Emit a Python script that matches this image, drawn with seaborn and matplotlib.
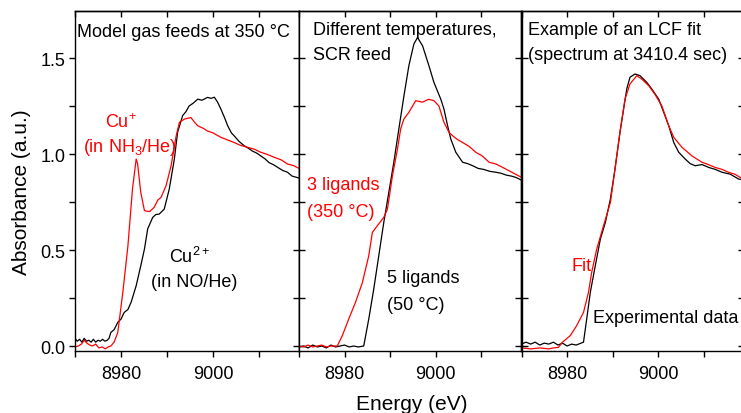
import matplotlib
matplotlib.use("Agg")
import matplotlib.pyplot as plt
from matplotlib.ticker import MultipleLocator, FormatStrFormatter
import seaborn as sns
import pandas as pd

# ================= data =================
# panel 1: model gas feeds at 350 C
p1_black_e = [8970, 8970.5, 8971, 8971.5, 8972, 8972.5, 8973, 8973.5, 8974, 8974.5,
              8975, 8975.5, 8976, 8976.5, 8977, 8977.4, 8977.8, 8978.5, 8979.3, 8980, 8980.7,
              8981.5, 8982.2, 8983.3, 8984.3, 8985.1, 8985.8, 8986.9, 8987.6, 8988.3, 8989.4,
              8990.5, 8991.6, 8992.3, 8993.4, 8994.1, 8994.8, 8995.7, 8996.7, 8997.6, 8998.8,
              8999.6, 9000.3, 9001, 9001.7, 9002.5, 9003.2, 9004, 9004.6, 9005.7, 9006.8,
              9007.7, 9008.6, 9009.5, 9010.4, 9011.3, 9012.2, 9013.1, 9014.1, 9015.1,
              9016.2, 9017.2, 9018.7]
p1_black_a = [0.04, 0.025, 0.035, 0.02, 0.04, 0.025, 0.03, 0.02, 0.035, 0.02,
              0.03, 0.025, 0.035, 0.025, 0.03, 0.04, 0.071, 0.085, 0.123, 0.14, 0.175,
              0.19, 0.228, 0.314, 0.418, 0.505, 0.61, 0.67, 0.685, 0.687, 0.713,
              0.818, 0.974, 1.113, 1.20, 1.22, 1.25, 1.265, 1.286, 1.28, 1.295,
              1.29, 1.296, 1.27, 1.235, 1.19, 1.147, 1.11, 1.095, 1.065, 1.043,
              1.03, 1.015, 1.005, 0.99, 0.975, 0.955, 0.945, 0.93, 0.915,
              0.905, 0.885, 0.875]

p1_red_e = [8970, 8970.7, 8971.4, 8972, 8972.6, 8973.2, 8973.8, 8974.5, 8975.2, 8975.9,
            8976.6, 8977.2, 8977.8, 8978.5, 8979.3, 8980.4, 8981.5, 8982.5, 8983.3, 8983.6,
            8984.3, 8985.1, 8986.2, 8987.2, 8988, 8988.7, 8989.8, 8990.9, 8992, 8992.7,
            8993.8, 8995.2, 8996, 8996.7, 8997.8, 8998.8, 9000, 9001.7, 9003, 9004.6,
            9006, 9007.5, 9009, 9010.4, 9011.8, 9013.3, 9014.8, 9016.2, 9017.5, 9018.7]
p1_red_a = [-0.005, 0.0, 0.01, 0.03, 0.015, 0.005, 0.0, 0.01, -0.01, -0.005,
            -0.015, -0.005, 0.0, 0.02, 0.07, 0.28, 0.52, 0.818, 0.974, 0.95,
            0.80, 0.705, 0.70, 0.722, 0.76, 0.774, 0.835, 0.94, 1.095, 1.165,
            1.182, 1.19, 1.165, 1.147, 1.135, 1.12, 1.11, 1.087, 1.075, 1.06,
            1.045, 1.035, 1.025, 1.009, 0.998, 0.983, 0.97, 0.948, 0.94, 0.925]

# panel 2: different temperatures, SCR feed
p2_black_e = [8970, 8971, 8972, 8973, 8974, 8975, 8976, 8977, 8978, 8979,
              8980, 8981, 8982, 8983, 8984.2, 8985.3, 8986.4, 8987.5, 8988.6, 8989.7,
              8990.8, 8991.9, 8993, 8994.1, 8995.2, 8996, 8997.1, 8998.5, 8999.6,
              9001.1, 9001.8, 9002.6, 9003.3, 9004.4, 9005.9, 9007, 9008.1, 9009.3,
              9010.5, 9011.8, 9013.2, 9014.3, 9015.5, 9016.6, 9017.6, 9018.7]
p2_black_a = [-0.005, 0.0, -0.01, 0.005, -0.005, 0.0, -0.01, 0.005, -0.005, 0.0,
              0.005, -0.005, 0.0, -0.005, 0.0, 0.14, 0.297, 0.47, 0.644, 0.80,
              0.957, 1.13, 1.30, 1.46, 1.573, 1.607, 1.564, 1.46, 1.373,
              1.286, 1.234, 1.147, 1.078, 1.009, 0.957, 0.95, 0.939, 0.925,
              0.92, 0.91, 0.905, 0.9, 0.89, 0.885, 0.878, 0.865]

p2_red_e = [8970, 8971, 8972, 8973, 8974, 8975, 8976, 8977, 8978.4, 8979.5,
            8980.9, 8982.4, 8983.9, 8985.3, 8986.1, 8987.2, 8988.6, 8989.4, 8990.5,
            8991.6, 8992.3, 8993, 8994.1, 8995.6, 8997.1, 8998.4, 8999.6, 9000.7, 9001.8,
            9002.9, 9003.7, 9004.8, 9005.9, 9007.3, 9008.8, 9010.2, 9011.7, 9013.2,
            9014.7, 9016.7, 9018.7]
p2_red_a = [0.0, -0.005, 0.005, -0.005, 0.0, 0.005, -0.005, 0.0, 0.0, 0.054,
            0.14, 0.228, 0.33, 0.47, 0.592, 0.627, 0.67, 0.713, 0.887,
            1.026, 1.13, 1.182, 1.217, 1.278, 1.27, 1.285, 1.278, 1.25, 1.165,
            1.113, 1.095, 1.075, 1.06, 1.04, 1.009, 0.99, 0.957, 0.948,
            0.93, 0.905, 0.88]

# panel 3: LCF fit example
p3_black_e = [8970, 8971, 8972, 8973, 8974, 8975, 8976, 8977, 8978, 8979,
              8980, 8981, 8982, 8983.6, 8984.3, 8985.1, 8986.2, 8987.3, 8988.4,
              8989.5, 8990.5, 8991.6, 8992.4, 8993.1, 8993.8, 8994.9, 8996,
              8997.5, 8998.6, 9000.1, 9001.2, 9002.3, 9003.4, 9004.5, 9005.9,
              9007, 9008.1, 9009.6, 9011.1, 9012.5, 9014, 9015.8, 9017.6, 9018.7]
p3_black_a = [0.01, 0.02, 0.01, 0.02, 0.005, 0.015, 0.01, 0.02, 0.005, 0.015,
              0.0, 0.01, 0.005, 0.02, 0.14, 0.28, 0.42, 0.557, 0.644,
              0.766, 0.92, 1.113, 1.234, 1.34, 1.40, 1.417, 1.408,
              1.373, 1.338, 1.286, 1.217, 1.147, 1.06, 1.009, 0.974,
              0.95, 0.939, 0.945, 0.93, 0.92, 0.905, 0.895, 0.87, 0.865]

p3_red_e = [8970, 8972, 8974, 8976, 8977, 8978.1, 8979, 8980.7, 8982.1, 8983.6,
            8984.7, 8985.4, 8986.5, 8988, 8989.5, 8990.5, 8991.6, 8992.7, 8993.8,
            8995.3, 8996.4, 8997.9, 8999.3, 9000.8, 9002.3, 9003.4, 9005.2,
            9007.4, 9009.6, 9011, 9012.5, 9014, 9015.4, 9016.8, 9018, 9018.7]
p3_red_a = [-0.01, -0.015, -0.01, -0.015, -0.01, -0.007, 0.02, 0.054, 0.106, 0.175,
            0.28, 0.384, 0.505, 0.627, 0.748, 0.92, 1.113, 1.286, 1.365,
            1.408, 1.39, 1.356, 1.31, 1.25, 1.147, 1.087, 1.035,
            0.99, 0.957, 0.945, 0.93, 0.92, 0.905, 0.895, 0.878, 0.875]

RED = "#ff0000"
BLACK = "#000000"
# ================================================================

sns.set_theme(style="ticks")
plt.rcParams["font.family"] = ["Liberation Sans", "DejaVu Sans"]
plt.rcParams["mathtext.fontset"] = "custom"
plt.rcParams["mathtext.rm"] = "Liberation Sans"
plt.rcParams["mathtext.it"] = "Liberation Sans:italic"
plt.rcParams["mathtext.bf"] = "Liberation Sans:bold"
plt.rcParams["axes.linewidth"] = 1.0
for key in ["text.color", "axes.labelcolor", "xtick.color", "ytick.color", "axes.edgecolor"]:
    plt.rcParams[key] = "#000000"

fig = plt.figure(figsize=(7.41, 4.14), dpi=100)
W, H = 741.0, 414.0
top_px, bot_px = 12, 352
panel_px = [(75, 224), (299, 222), (521.5, 222)]
axes = [fig.add_axes([l / W, 1 - bot_px / H, w / W, (bot_px - top_px) / H]) for l, w in panel_px]

curves = [
    [(p1_black_e, p1_black_a, BLACK), (p1_red_e, p1_red_a, RED)],
    [(p2_black_e, p2_black_a, BLACK), (p2_red_e, p2_red_a, RED)],
    [(p3_black_e, p3_black_a, BLACK), (p3_red_e, p3_red_a, RED)],
]

for i, ax in enumerate(axes):
    for e, a, c in curves[i]:
        df = pd.DataFrame({"Energy": e, "Absorbance": a})
        sns.lineplot(data=df, x="Energy", y="Absorbance", ax=ax, color=c,
                     linewidth=0.9, estimator=None)
    ax.set_xlim(8970, 9018.7)
    ax.set_ylim(-0.026, 1.745)
    ax.set_xlabel("")
    ax.set_ylabel("")
    ax.xaxis.set_major_locator(MultipleLocator(20))
    ax.xaxis.set_minor_locator(MultipleLocator(10))
    ax.yaxis.set_major_locator(MultipleLocator(0.5))
    ax.yaxis.set_minor_locator(MultipleLocator(0.25))
    ax.tick_params(axis="x", which="both", direction="out", length=4, width=1,
                   labelsize=13, pad=6)
    ax.tick_params(axis="y", which="both", direction="out" if i == 0 else "in",
                   length=4, width=1, labelsize=13, pad=3, labelleft=(i == 0))
    ax.yaxis.set_major_formatter(FormatStrFormatter("%.1f"))

    # inward ticks on top and right
    sx = ax.secondary_xaxis("top")
    sx.xaxis.set_major_locator(MultipleLocator(20))
    sx.xaxis.set_minor_locator(MultipleLocator(10))
    sx.tick_params(which="both", direction="in", length=4, width=1, labeltop=False)
    sy = ax.secondary_yaxis("right")
    sy.yaxis.set_major_locator(MultipleLocator(0.5))
    sy.yaxis.set_minor_locator(MultipleLocator(0.25))
    sy.tick_params(which="both", direction="in", length=4, width=1, labelright=False)

fs = 13
a1, a2, a3 = axes
a1.text(0.009, 0.926, "Model gas feeds at 350 °C", transform=a1.transAxes, fontsize=fs)
a1.text(0.205, 0.659, r"Cu$^{+}$", transform=a1.transAxes, fontsize=fs, color=RED, ha="center")
a1.text(0.243, 0.588, r"(in NH$_{3}$/He)", transform=a1.transAxes, fontsize=fs, color=RED, ha="center")
a1.text(0.513, 0.262, r"Cu$^{2+}$", transform=a1.transAxes, fontsize=fs, ha="center")
a1.text(0.531, 0.191, "(in NO/He)", transform=a1.transAxes, fontsize=fs, ha="center")

a2.text(0.063, 0.932, "Different temperatures,", transform=a2.transAxes, fontsize=fs)
a2.text(0.063, 0.859, "SCR feed", transform=a2.transAxes, fontsize=fs)
a2.text(0.036, 0.476, "3 ligands", transform=a2.transAxes, fontsize=fs, color=RED)
a2.text(0.036, 0.398, "(350 °C)", transform=a2.transAxes, fontsize=fs, color=RED)
a2.text(0.396, 0.202, "5 ligands", transform=a2.transAxes, fontsize=fs)
a2.text(0.396, 0.124, "(50 °C)", transform=a2.transAxes, fontsize=fs)

a3.text(0.029, 0.932, "Example of an LCF fit", transform=a3.transAxes, fontsize=fs)
a3.text(0.029, 0.859, "(spectrum at 3410.4 sec)", transform=a3.transAxes, fontsize=fs)
a3.text(0.223, 0.238, "Fit", transform=a3.transAxes, fontsize=fs, color=RED)
a3.text(0.322, 0.085, "Experimental data", transform=a3.transAxes, fontsize=fs)

fig.text(22 / W, 1 - 192 / H, "Absorbance (a.u.)", rotation=90, ha="center", va="center", fontsize=15)
fig.text(412 / W, 1 - 410 / H, "Energy (eV)", ha="center", va="baseline", fontsize=15)

fig.savefig("out.png", dpi=100)
